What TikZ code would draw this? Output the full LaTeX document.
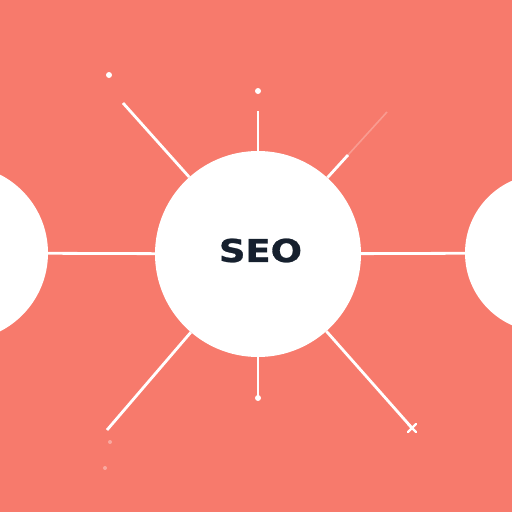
\documentclass[tikz,border=0pt]{standalone}
\usepackage{fontspec}
\newfontfamily\seofont[BoldFeatures={FakeBold=0.8}]{DejaVu Sans}
\definecolor{bgsalmon}{RGB}{247,122,108}
\definecolor{navy}{RGB}{22,32,46}
\begin{document}
\begin{tikzpicture}[x=1pt,y=-1pt,
  spoke/.style={draw=white,line width=2.8pt},
  faint/.style={draw=white,line width=1.6pt,opacity=0.25},
  hub/.style={circle,fill=white,draw=none,inner sep=0pt},
  dotmark/.style={circle,fill=white,inner sep=0pt,minimum size=6pt},
  ghost/.style={circle,fill=white,inner sep=0pt,minimum size=4pt,opacity=0.35}]
\useasboundingbox (0,0) rectangle (512,512);
\clip (0,0) rectangle (512,512);
\fill[bgsalmon] (0,0) rectangle (512,512);
% hubs
\node[hub,minimum size=206pt] (seo) at (258,254) {};
\node[hub,minimum size=176pt] (left) at (-40,253) {};
\node[hub,minimum size=158pt] (right) at (544,253) {};
\node[inner sep=0pt,text=navy,xscale=1.17] (label) at (260.5,250.5) {\seofont\bfseries\fontsize{31.5}{32}\selectfont SEO};
% horizontal links
\draw[spoke] (left) -- (seo);
\draw[spoke] (seo) -- (right);
% spoke end points
\coordinate (ul) at (123,103);
\coordinate (ur1) at (348,155);
\coordinate (ur2) at (387,112);
\coordinate (ll) at (107,430);
\coordinate (lr) at (412,428);
\coordinate (topend) at (258,111);
\node[dotmark] (topdot) at (258,91) {};
\node[dotmark] (botdot) at (258,398) {};
\draw[spoke] (ul) -- (seo);
\draw[spoke] (seo) -- (ur1);
\draw[faint] (ur1) -- (ur2);
\draw[spoke] (seo) -- (ll);
\draw[spoke] (seo) -- (lr);
\draw[spoke] (topend) -- (seo.north);
\draw[spoke] (seo.south) -- (botdot.center);
% small marks
\draw[white,line width=2.4pt,line cap=round] ([shift={(-4,-4)}]lr) -- ([shift={(4,4)}]lr);
\draw[white,line width=2.4pt,line cap=round] ([shift={(-4,4)}]lr) -- ([shift={(4,-4)}]lr);
\node[circle,fill=white,inner sep=0pt,minimum size=6pt] (blob) at (109,75) {};
\node[ghost] (g1) at (110,442) {};
\node[ghost] (g2) at (105,468) {};
\end{tikzpicture}
\end{document}
